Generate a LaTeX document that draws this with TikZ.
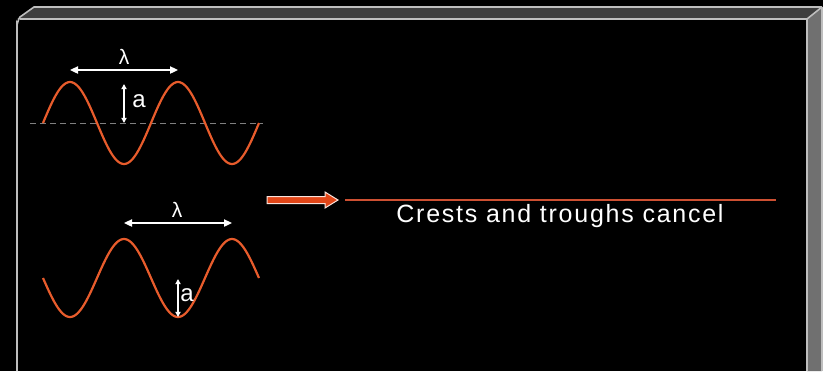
\documentclass[tikz,border=0pt]{standalone}
\usepackage{fontspec}
\setmainfont{Liberation Sans}
\usetikzlibrary{arrows.meta}
\definecolor{wave}{RGB}{232,92,44}
\definecolor{redline}{RGB}{205,80,50}
\definecolor{arrowfill}{RGB}{226,70,24}
\definecolor{edge}{RGB}{190,190,190}
\definecolor{topstrip}{RGB}{62,62,62}
\definecolor{sideface}{RGB}{112,112,112}
\begin{document}
\begin{tikzpicture}[x=0.5pt,y=-0.5pt,
  wavestyle/.style={draw=wave,line width=1.1pt},
  dimarrow/.style={draw=white,line width=0.8pt,{Triangle[length=4pt,width=3.6pt]}-{Triangle[length=4pt,width=3.6pt]}},
  amparrow/.style={draw=white,line width=0.7pt,{Triangle[length=2.6pt,width=2.6pt]}-{Triangle[length=2.6pt,width=2.6pt]}},
  lam/.style={text=white,font=\fontsize{10.5}{12}\selectfont,inner sep=0pt},
  alab/.style={text=white,font=\fontsize{12}{14}\selectfont,inner sep=0pt},
  caption/.style={text=white,font=\fontsize{12.5}{14}\selectfont\addfontfeature{LetterSpace=7},inner sep=0pt,anchor=base}]
\useasboundingbox (0,0) rectangle (823,371);
\fill[black] (0,0) rectangle (823,371);
% 3D frame
\fill[topstrip] (17,19) -- (34,7) -- (822,7) -- (807,19) -- cycle;
\fill[sideface] (807,19) -- (822,7) -- (822,371) -- (807,371) -- cycle;
\draw[edge,line width=0.8pt] (17,371) -- (17,24) to[out=-90,in=-135] (20,17) -- (34,7) -- (822,7);
\draw[edge,line width=0.8pt] (20,19) -- (807,19) -- (822,7);
\draw[edge,line width=0.8pt] (807,19) -- (807,371);
\draw[edge,line width=0.6pt] (822,7) -- (822,371);
% wave 1
\coordinate (d1) at (30,123);
\coordinate (d2) at (263,123);
\draw[gray,line width=0.5pt,dash pattern=on 3pt off 2pt] (d1) -- (d2);
\draw[wavestyle] plot[domain=0:720,samples=121,smooth] ({43+\x*0.3},{123-41*sin(\x)});
\coordinate (l1a) at (70,70);
\coordinate (l1b) at (178,70);
\draw[dimarrow] (l1a) -- (l1b);
\node[lam] (lam1) at (124,57) {λ};
\coordinate (a1t) at (124,84);
\coordinate (a1b) at (124,123);
\draw[amparrow] (a1t) -- (a1b);
\node[alab] (alab1) at (139,101) {a};
% wave 2
\draw[wavestyle] plot[domain=0:720,samples=121,smooth] ({43+\x*0.3},{278+39*sin(\x)});
\coordinate (l2a) at (124,223);
\coordinate (l2b) at (232,223);
\draw[dimarrow] (l2a) -- (l2b);
\node[lam] (lam2) at (177,210) {λ};
\coordinate (a2t) at (178,279);
\coordinate (a2b) at (178,317);
\draw[amparrow] (a2t) -- (a2b);
\node[alab] (alab2) at (187,295) {a};
% result
\draw[fill=arrowfill,draw=white!85!arrowfill,line width=0.5pt]
  (267,196.5) -- (325,196.5) -- (325,192) -- (338,200) -- (325,208) -- (325,203.5) -- (267,203.5) -- cycle;
\coordinate (r1) at (345,200);
\coordinate (r2) at (776,200);
\draw[redline,line width=1pt] (r1) -- (r2);
\node[caption] (cap) at (560,222) {Crests and troughs cancel};
\end{tikzpicture}
\end{document}
